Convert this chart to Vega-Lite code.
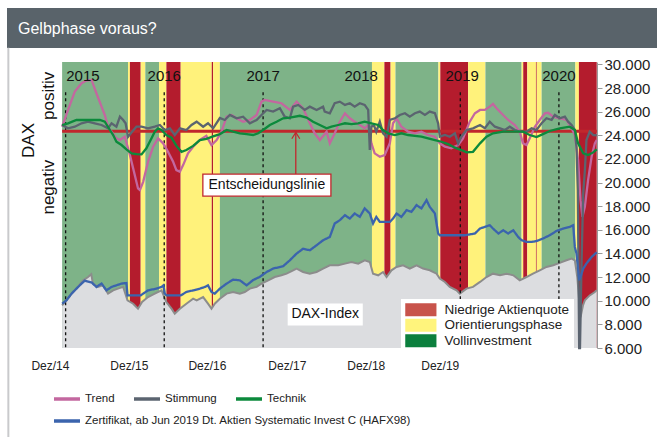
{
"$schema": "https://vega.github.io/schema/vega-lite/v6.json",
"padding": {"left": 7, "top": 8, "right": 0, "bottom": 0},
"background": "white",
"bounds": "flush",
"spacing": 14,
"config": {"view": {"stroke": null}},
"datasets": {
"bands": [
{"d":"2014-12-19","d2":"2015-08-20","p":"Vollinvestment"},
{"d":"2015-08-20","d2":"2015-08-27","p":"Orientierungsphase"},
{"d":"2015-08-27","d2":"2015-10-06","p":"Niedrige Aktienquote"},
{"d":"2015-10-06","d2":"2015-10-23","p":"Orientierungsphase"},
{"d":"2015-10-23","d2":"2015-12-13","p":"Vollinvestment"},
{"d":"2015-12-13","d2":"2016-01-09","p":"Orientierungsphase"},
{"d":"2016-01-09","d2":"2016-03-02","p":"Niedrige Aktienquote"},
{"d":"2016-03-02","d2":"2016-06-25","p":"Orientierungsphase"},
{"d":"2016-06-25","d2":"2016-06-30","p":"Niedrige Aktienquote"},
{"d":"2016-06-30","d2":"2016-07-25","p":"Orientierungsphase"},
{"d":"2016-07-25","d2":"2018-02-08","p":"Vollinvestment"},
{"d":"2018-02-08","d2":"2018-03-26","p":"Orientierungsphase"},
{"d":"2018-03-26","d2":"2018-04-18","p":"Niedrige Aktienquote"},
{"d":"2018-04-18","d2":"2018-05-06","p":"Orientierungsphase"},
{"d":"2018-05-06","d2":"2018-10-12","p":"Vollinvestment"},
{"d":"2018-10-12","d2":"2018-10-19","p":"Orientierungsphase"},
{"d":"2018-10-19","d2":"2019-01-30","p":"Niedrige Aktienquote"},
{"d":"2019-01-30","d2":"2019-04-04","p":"Orientierungsphase"},
{"d":"2019-04-04","d2":"2019-08-16","p":"Vollinvestment"},
{"d":"2019-08-16","d2":"2019-08-22","p":"Orientierungsphase"},
{"d":"2019-08-22","d2":"2019-09-06","p":"Niedrige Aktienquote"},
{"d":"2019-09-06","d2":"2019-10-08","p":"Orientierungsphase"},
{"d":"2019-10-08","d2":"2019-10-11","p":"Niedrige Aktienquote"},
{"d":"2019-10-11","d2":"2019-10-29","p":"Orientierungsphase"},
{"d":"2019-10-29","d2":"2020-03-02","p":"Vollinvestment"},
{"d":"2020-03-02","d2":"2020-03-15","p":"Orientierungsphase"},
{"d":"2020-03-15","d2":"2020-05-20","p":"Niedrige Aktienquote"}
],
"dax": [
{"d":"2014-12-19","v":9606},{"d":"2015-01-04","v":10030},{"d":"2015-01-23","v":10600},{"d":"2015-02-10","v":11022},{"d":"2015-03-07","v":11726},{"d":"2015-03-25","v":12006},{"d":"2015-04-06","v":12250},{"d":"2015-04-12","v":11450},{"d":"2015-05-01","v":11168},{"d":"2015-05-19","v":11302},{"d":"2015-06-07","v":10600},{"d":"2015-06-26","v":10878},{"d":"2015-07-14","v":11022},{"d":"2015-08-02","v":11168},{"d":"2015-08-18","v":10030},{"d":"2015-09-08","v":9750},{"d":"2015-09-26","v":9326},{"d":"2015-10-11","v":9890},{"d":"2015-11-02","v":10310},{"d":"2015-11-27","v":10600},{"d":"2015-12-22","v":10878},{"d":"2016-01-09","v":9890},{"d":"2016-01-28","v":9326},{"d":"2016-02-09","v":8902},{"d":"2016-02-28","v":9326},{"d":"2016-03-23","v":9750},{"d":"2016-04-17","v":10170},{"d":"2016-04-30","v":10030},{"d":"2016-05-24","v":10310},{"d":"2016-06-11","v":9750},{"d":"2016-06-24","v":9326},{"d":"2016-07-06","v":9750},{"d":"2016-07-25","v":10170},{"d":"2016-08-19","v":10600},{"d":"2016-09-12","v":10740},{"d":"2016-10-07","v":10600},{"d":"2016-10-25","v":10740},{"d":"2016-11-13","v":11022},{"d":"2016-12-08","v":11168},{"d":"2016-12-26","v":11450},{"d":"2017-01-20","v":11726},{"d":"2017-02-13","v":12006},{"d":"2017-03-10","v":12150},{"d":"2017-03-29","v":12290},{"d":"2017-04-22","v":12574},{"d":"2017-05-05","v":12720},{"d":"2017-05-29","v":12430},{"d":"2017-06-23","v":12290},{"d":"2017-07-18","v":12430},{"d":"2017-08-11","v":12720},{"d":"2017-09-05","v":13000},{"d":"2017-10-06","v":13000},{"d":"2017-10-31","v":13140},{"d":"2017-11-24","v":13280},{"d":"2017-12-19","v":13140},{"d":"2018-01-12","v":13422},{"d":"2018-01-31","v":13280},{"d":"2018-02-12","v":12290},{"d":"2018-03-03","v":12150},{"d":"2018-03-21","v":12430},{"d":"2018-04-03","v":12006},{"d":"2018-04-21","v":12574},{"d":"2018-05-10","v":12860},{"d":"2018-06-03","v":13000},{"d":"2018-06-28","v":12720},{"d":"2018-07-23","v":13000},{"d":"2018-08-16","v":12720},{"d":"2018-09-10","v":12574},{"d":"2018-10-05","v":12290},{"d":"2018-10-17","v":11870},{"d":"2018-11-05","v":11590},{"d":"2018-11-23","v":11168},{"d":"2018-12-18","v":10878},{"d":"2018-12-30","v":10600},{"d":"2019-01-24","v":11022},{"d":"2019-02-17","v":11168},{"d":"2019-03-15","v":11590},{"d":"2019-04-08","v":12006},{"d":"2019-05-02","v":12290},{"d":"2019-05-28","v":12150},{"d":"2019-06-21","v":12290},{"d":"2019-07-16","v":12150},{"d":"2019-08-09","v":11726},{"d":"2019-09-03","v":12006},{"d":"2019-09-27","v":12290},{"d":"2019-10-22","v":12574},{"d":"2019-11-16","v":12860},{"d":"2019-12-11","v":13000},{"d":"2020-01-04","v":13200},{"d":"2020-01-29","v":13422},{"d":"2020-02-17","v":13566},{"d":"2020-02-29","v":13422},{"d":"2020-03-09","v":12006},{"d":"2020-03-16","v":10030},{"d":"2020-03-21","v":8600},{"d":"2020-03-30","v":9600},{"d":"2020-04-06","v":10030},{"d":"2020-04-24","v":10450},{"d":"2020-05-13","v":10740},{"d":"2020-05-20","v":10900}
],
"trend": [
{"d":"2014-12-19","v":24725},{"d":"2015-01-10","v":26142},{"d":"2015-02-04","v":27694},{"d":"2015-03-01","v":28400},{"d":"2015-03-19","v":28626},{"d":"2015-04-07","v":28686},{"d":"2015-04-16","v":28117},{"d":"2015-04-25","v":27557},{"d":"2015-05-14","v":26421},{"d":"2015-05-26","v":25718},{"d":"2015-06-07","v":24725},{"d":"2015-06-20","v":24302},{"d":"2015-07-08","v":23742},{"d":"2015-07-21","v":23598},{"d":"2015-08-08","v":23878},{"d":"2015-08-27","v":22326},{"d":"2015-09-08","v":21198},{"d":"2015-09-26","v":19502},{"d":"2015-10-03","v":19358},{"d":"2015-10-15","v":20062},{"d":"2015-11-02","v":21758},{"d":"2015-11-21","v":23030},{"d":"2015-12-09","v":23742},{"d":"2015-12-28","v":23318},{"d":"2016-01-15","v":22605},{"d":"2016-02-03","v":21758},{"d":"2016-02-15","v":21054},{"d":"2016-02-28","v":20910},{"d":"2016-03-11","v":21478},{"d":"2016-03-29","v":22470},{"d":"2016-04-17","v":23030},{"d":"2016-05-12","v":23598},{"d":"2016-06-05","v":23950},{"d":"2016-06-24","v":23174},{"d":"2016-07-13","v":23598},{"d":"2016-07-31","v":24302},{"d":"2016-08-19","v":25574},{"d":"2016-09-06","v":25718},{"d":"2016-09-25","v":25438},{"d":"2016-10-19","v":25150},{"d":"2016-11-13","v":25294},{"d":"2016-12-08","v":25718},{"d":"2016-12-26","v":26846},{"d":"2017-01-07","v":26990},{"d":"2017-02-07","v":26846},{"d":"2017-03-10","v":26710},{"d":"2017-04-10","v":26142},{"d":"2017-05-05","v":26846},{"d":"2017-05-29","v":26286},{"d":"2017-06-23","v":25014},{"d":"2017-07-11","v":24166},{"d":"2017-07-30","v":23598},{"d":"2017-08-24","v":24302},{"d":"2017-09-05","v":23318},{"d":"2017-09-23","v":24166},{"d":"2017-10-12","v":25150},{"d":"2017-10-31","v":25862},{"d":"2017-11-18","v":25438},{"d":"2017-12-06","v":25150},{"d":"2017-12-25","v":24870},{"d":"2018-01-12","v":24590},{"d":"2018-01-25","v":24870},{"d":"2018-02-06","v":23318},{"d":"2018-02-18","v":22470},{"d":"2018-03-09","v":22182},{"d":"2018-03-27","v":22326},{"d":"2018-04-15","v":23318},{"d":"2018-04-27","v":25014},{"d":"2018-05-10","v":25438},{"d":"2018-05-28","v":24725},{"d":"2018-06-22","v":24302},{"d":"2018-07-17","v":24166},{"d":"2018-08-10","v":24302},{"d":"2018-09-04","v":24022},{"d":"2018-09-29","v":23878},{"d":"2018-10-17","v":23318},{"d":"2018-11-05","v":23030},{"d":"2018-11-29","v":22894},{"d":"2018-12-24","v":23174},{"d":"2019-01-11","v":23742},{"d":"2019-02-05","v":25150},{"d":"2019-02-24","v":25862},{"d":"2019-03-15","v":26142},{"d":"2019-04-02","v":26142},{"d":"2019-04-20","v":26421},{"d":"2019-05-02","v":26650},{"d":"2019-05-15","v":26286},{"d":"2019-06-02","v":25862},{"d":"2019-06-27","v":25294},{"d":"2019-07-22","v":24870},{"d":"2019-08-09","v":24302},{"d":"2019-08-21","v":23318},{"d":"2019-09-03","v":23174},{"d":"2019-09-15","v":23742},{"d":"2019-10-04","v":24725},{"d":"2019-10-22","v":25294},{"d":"2019-11-10","v":25862},{"d":"2019-11-22","v":25900},{"d":"2019-12-11","v":25574},{"d":"2020-01-04","v":25430},{"d":"2020-01-29","v":25294},{"d":"2020-02-17","v":24590},{"d":"2020-02-29","v":24022},{"d":"2020-03-12","v":21902},{"d":"2020-03-21","v":18510},{"d":"2020-03-28","v":17094},{"d":"2020-04-06","v":17942},{"d":"2020-04-18","v":20206},{"d":"2020-05-01","v":22182},{"d":"2020-05-13","v":23318},{"d":"2020-05-20","v":23600}
],
"stimmung": [
{"d":"2014-12-19","v":24870},{"d":"2015-01-10","v":24590},{"d":"2015-02-04","v":24725},{"d":"2015-03-01","v":25014},{"d":"2015-03-25","v":25150},{"d":"2015-04-19","v":25014},{"d":"2015-05-14","v":24870},{"d":"2015-06-07","v":24590},{"d":"2015-06-20","v":25014},{"d":"2015-07-08","v":24725},{"d":"2015-07-21","v":25574},{"d":"2015-08-02","v":25294},{"d":"2015-08-11","v":25014},{"d":"2015-08-20","v":23878},{"d":"2015-09-04","v":24302},{"d":"2015-09-20","v":24725},{"d":"2015-10-09","v":24725},{"d":"2015-11-02","v":24590},{"d":"2015-11-27","v":24725},{"d":"2015-12-16","v":24870},{"d":"2016-01-03","v":24446},{"d":"2016-01-22","v":24590},{"d":"2016-02-09","v":24022},{"d":"2016-02-28","v":24590},{"d":"2016-03-23","v":24446},{"d":"2016-04-11","v":24870},{"d":"2016-04-30","v":25150},{"d":"2016-05-24","v":24725},{"d":"2016-06-11","v":25014},{"d":"2016-06-30","v":24590},{"d":"2016-07-25","v":25460},{"d":"2016-08-12","v":25294},{"d":"2016-08-31","v":25718},{"d":"2016-09-25","v":25438},{"d":"2016-10-19","v":25574},{"d":"2016-11-13","v":25014},{"d":"2016-12-08","v":25294},{"d":"2016-12-26","v":25718},{"d":"2017-01-14","v":26142},{"d":"2017-02-07","v":26000},{"d":"2017-03-04","v":26286},{"d":"2017-03-22","v":25574},{"d":"2017-04-10","v":25438},{"d":"2017-04-22","v":26421},{"d":"2017-05-11","v":26566},{"d":"2017-06-04","v":26142},{"d":"2017-06-23","v":26421},{"d":"2017-07-18","v":26142},{"d":"2017-08-11","v":26421},{"d":"2017-08-17","v":26000},{"d":"2017-09-05","v":25862},{"d":"2017-09-23","v":26710},{"d":"2017-10-12","v":26846},{"d":"2017-10-31","v":26566},{"d":"2017-11-18","v":26710},{"d":"2017-12-06","v":26421},{"d":"2017-12-25","v":26710},{"d":"2018-01-12","v":26566},{"d":"2018-01-25","v":26142},{"d":"2018-01-31","v":22750},{"d":"2018-02-06","v":24725},{"d":"2018-02-15","v":24870},{"d":"2018-02-24","v":24302},{"d":"2018-03-09","v":25150},{"d":"2018-03-21","v":24166},{"d":"2018-04-03","v":23878},{"d":"2018-04-15","v":25294},{"d":"2018-05-04","v":25438},{"d":"2018-05-22","v":25718},{"d":"2018-06-10","v":25862},{"d":"2018-06-28","v":25574},{"d":"2018-07-17","v":25862},{"d":"2018-08-04","v":26000},{"d":"2018-08-23","v":25718},{"d":"2018-09-10","v":26000},{"d":"2018-09-29","v":25862},{"d":"2018-10-11","v":25014},{"d":"2018-10-17","v":23878},{"d":"2018-11-05","v":24022},{"d":"2018-11-23","v":23878},{"d":"2018-12-12","v":24166},{"d":"2018-12-24","v":23318},{"d":"2019-01-05","v":23878},{"d":"2019-01-24","v":24446},{"d":"2019-02-17","v":24590},{"d":"2019-03-15","v":24870},{"d":"2019-04-02","v":24590},{"d":"2019-04-20","v":25150},{"d":"2019-05-09","v":24725},{"d":"2019-05-28","v":24590},{"d":"2019-06-15","v":24446},{"d":"2019-07-03","v":24725},{"d":"2019-07-22","v":24446},{"d":"2019-08-09","v":24302},{"d":"2019-09-03","v":24302},{"d":"2019-09-22","v":24590},{"d":"2019-10-10","v":24446},{"d":"2019-10-29","v":25014},{"d":"2019-11-16","v":25438},{"d":"2019-12-05","v":25294},{"d":"2019-12-17","v":25718},{"d":"2020-01-04","v":25438},{"d":"2020-01-23","v":25574},{"d":"2020-02-04","v":25150},{"d":"2020-02-17","v":24870},{"d":"2020-02-29","v":24446},{"d":"2020-03-06","v":23030},{"d":"2020-03-11","v":19358},{"d":"2020-03-16","v":6000},{"d":"2020-03-19","v":6000},{"d":"2020-03-25","v":13422},{"d":"2020-03-31","v":19076},{"d":"2020-04-06","v":21000},{"d":"2020-04-12","v":23598},{"d":"2020-04-24","v":24302},{"d":"2020-05-07","v":24022},{"d":"2020-05-20","v":24000}
],
"technik": [
{"d":"2014-12-19","v":24870},{"d":"2015-01-10","v":25014},{"d":"2015-02-10","v":25294},{"d":"2015-03-25","v":25294},{"d":"2015-05-08","v":25294},{"d":"2015-05-26","v":25150},{"d":"2015-06-14","v":24446},{"d":"2015-06-26","v":24022},{"d":"2015-07-08","v":23453},{"d":"2015-07-27","v":23174},{"d":"2015-08-14","v":22810},{"d":"2015-09-02","v":22470},{"d":"2015-09-20","v":22400},{"d":"2015-10-09","v":22385},{"d":"2015-10-27","v":22894},{"d":"2015-11-15","v":23742},{"d":"2015-11-27","v":24302},{"d":"2015-12-09","v":24590},{"d":"2015-12-22","v":24446},{"d":"2016-01-09","v":24022},{"d":"2016-01-28","v":23800},{"d":"2016-02-15","v":23100},{"d":"2016-03-05","v":22600},{"d":"2016-03-23","v":22750},{"d":"2016-04-17","v":23100},{"d":"2016-05-12","v":23598},{"d":"2016-06-05","v":23700},{"d":"2016-06-30","v":23900},{"d":"2016-07-25","v":24100},{"d":"2016-08-19","v":24446},{"d":"2016-09-12","v":24302},{"d":"2016-10-07","v":24166},{"d":"2016-11-01","v":24100},{"d":"2016-11-25","v":24022},{"d":"2016-12-14","v":24166},{"d":"2017-01-01","v":24446},{"d":"2017-01-26","v":24870},{"d":"2017-02-20","v":25150},{"d":"2017-03-16","v":25438},{"d":"2017-04-10","v":25500},{"d":"2017-05-17","v":25650},{"d":"2017-06-11","v":25500},{"d":"2017-07-05","v":25150},{"d":"2017-07-30","v":24870},{"d":"2017-08-24","v":24590},{"d":"2017-09-11","v":24725},{"d":"2017-10-06","v":24870},{"d":"2017-10-31","v":25014},{"d":"2017-11-24","v":24950},{"d":"2017-12-19","v":25014},{"d":"2018-01-12","v":25150},{"d":"2018-02-06","v":25014},{"d":"2018-03-03","v":24870},{"d":"2018-03-21","v":24446},{"d":"2018-04-09","v":24166},{"d":"2018-05-04","v":24022},{"d":"2018-05-28","v":24166},{"d":"2018-06-22","v":24022},{"d":"2018-07-17","v":23950},{"d":"2018-08-10","v":23878},{"d":"2018-09-04","v":23742},{"d":"2018-09-29","v":23598},{"d":"2018-10-23","v":23453},{"d":"2018-11-17","v":23250},{"d":"2018-12-12","v":22950},{"d":"2019-01-05","v":22750},{"d":"2019-01-24","v":22550},{"d":"2019-02-17","v":22600},{"d":"2019-03-15","v":23318},{"d":"2019-04-08","v":23878},{"d":"2019-05-02","v":24166},{"d":"2019-06-09","v":24302},{"d":"2019-07-16","v":24302},{"d":"2019-08-21","v":24302},{"d":"2019-09-15","v":24022},{"d":"2019-10-10","v":23850},{"d":"2019-11-03","v":24100},{"d":"2019-11-28","v":24361},{"d":"2020-01-04","v":24590},{"d":"2020-02-10","v":24725},{"d":"2020-02-29","v":24446},{"d":"2020-03-12","v":23318},{"d":"2020-03-31","v":22470},{"d":"2020-04-18","v":22326},{"d":"2020-05-07","v":22550},{"d":"2020-05-20","v":22800}
],
"zert": [
{"d":"2014-12-19","v":9750},{"d":"2015-01-04","v":10030},{"d":"2015-01-23","v":10600},{"d":"2015-02-10","v":11022},{"d":"2015-03-01","v":11450},{"d":"2015-03-13","v":11700},{"d":"2015-04-07","v":11550},{"d":"2015-04-25","v":11168},{"d":"2015-05-14","v":11450},{"d":"2015-06-01","v":10878},{"d":"2015-06-20","v":11168},{"d":"2015-07-08","v":11302},{"d":"2015-07-27","v":11450},{"d":"2015-08-14","v":11500},{"d":"2015-08-18","v":10454},{"d":"2015-10-06","v":10454},{"d":"2015-10-15","v":10600},{"d":"2015-11-02","v":10878},{"d":"2015-12-03","v":11022},{"d":"2015-12-22","v":11168},{"d":"2015-12-29","v":11300},{"d":"2016-01-03","v":10600},{"d":"2016-01-09","v":10454},{"d":"2016-03-02","v":10454},{"d":"2016-03-23","v":10740},{"d":"2016-04-17","v":10878},{"d":"2016-05-12","v":11022},{"d":"2016-05-31","v":11168},{"d":"2016-06-11","v":11302},{"d":"2016-06-24","v":10740},{"d":"2016-07-06","v":10600},{"d":"2016-07-25","v":11022},{"d":"2016-08-19","v":11450},{"d":"2016-09-12","v":11784},{"d":"2016-10-07","v":11726},{"d":"2016-11-01","v":11302},{"d":"2016-11-25","v":11750},{"d":"2016-12-19","v":12006},{"d":"2017-01-14","v":12430},{"d":"2017-02-07","v":12720},{"d":"2017-03-16","v":12920},{"d":"2017-04-10","v":13422},{"d":"2017-05-05","v":13990},{"d":"2017-05-29","v":14400},{"d":"2017-06-23","v":14270},{"d":"2017-07-18","v":14694},{"d":"2017-08-11","v":15118},{"d":"2017-09-05","v":15398},{"d":"2017-09-23","v":16534},{"d":"2017-10-12","v":16814},{"d":"2017-10-31","v":17238},{"d":"2017-11-18","v":16950},{"d":"2017-12-06","v":17380},{"d":"2017-12-25","v":17100},{"d":"2018-01-12","v":17814},{"d":"2018-01-31","v":17380},{"d":"2018-02-12","v":16534},{"d":"2018-02-24","v":17094},{"d":"2018-03-09","v":16670},{"d":"2018-03-21","v":16670},{"d":"2018-04-15","v":16670},{"d":"2018-04-27","v":16950},{"d":"2018-05-10","v":17380},{"d":"2018-05-28","v":17094},{"d":"2018-06-16","v":17662},{"d":"2018-07-04","v":17520},{"d":"2018-07-23","v":18086},{"d":"2018-08-10","v":17814},{"d":"2018-08-29","v":18510},{"d":"2018-09-10","v":17940},{"d":"2018-09-29","v":17380},{"d":"2018-10-11","v":15686},{"d":"2018-10-17","v":15542},{"d":"2019-01-18","v":15542},{"d":"2019-02-24","v":15686},{"d":"2019-03-15","v":16110},{"d":"2019-04-02","v":16250},{"d":"2019-04-20","v":16390},{"d":"2019-05-02","v":16110},{"d":"2019-05-22","v":15686},{"d":"2019-06-09","v":15966},{"d":"2019-06-27","v":15686},{"d":"2019-07-16","v":15966},{"d":"2019-08-03","v":15400},{"d":"2019-08-16","v":15118},{"d":"2019-09-03","v":14974},{"d":"2019-09-22","v":14974},{"d":"2019-10-10","v":15050},{"d":"2019-11-03","v":15260},{"d":"2019-11-28","v":15542},{"d":"2019-12-23","v":15900},{"d":"2020-01-17","v":16110},{"d":"2020-02-10","v":16250},{"d":"2020-02-23","v":16390},{"d":"2020-02-29","v":14550},{"d":"2020-03-06","v":14000},{"d":"2020-03-16","v":11726},{"d":"2020-03-21","v":12006},{"d":"2020-03-31","v":12720},{"d":"2020-04-12","v":13150},{"d":"2020-05-01","v":13700},{"d":"2020-05-20","v":14100}
]
},
"vconcat": [
{
"width": 650, "height": 40,
"view": {"fill": "#59636a", "stroke": null},
"data": {"values": [{"t": "Gelbphase voraus?"}]},
"mark": {"type": "text", "align": "left", "baseline": "middle", "dx": 11, "dy": 1, "color": "white", "font": "Liberation Sans, sans-serif", "fontSize": 16},
"encoding": {
"text": {"field": "t", "type": "nominal"},
"x": {"datum": 0, "type": "quantitative", "scale": {"domain": [0, 1]}, "axis": null},
"y": {"datum": 0.5, "type": "quantitative", "scale": {"domain": [0, 1]}, "axis": null}
}
},
{
"width": 590, "height": 286,
"encoding": {
"x": {"field": "d", "type": "temporal",
"scale": {"domain": [{"year": 2014, "month": 5, "date": 29}, {"year": 2020, "month": 5, "date": 21}], "nice": false},
"axis": {"values": [{"year": 2014, "month": 11, "date": 4}, {"year": 2015, "month": 8, "date": 23}, {"year": 2016, "month": 6, "date": 7}, {"year": 2017, "month": 3, "date": 30}, {"year": 2018, "month": 1, "date": 16}, {"year": 2018, "month": 10, "date": 17}],
"labelExpr": "'Dez/' + (14 + round(datum.index * 5))", "ticks": false, "domain": false, "grid": false, "title": null, "labelOverlap": false, "labelFlush": false,
"labelFont": "Liberation Sans, sans-serif", "labelFontSize": 12, "labelColor": "#222", "labelPadding": 12}}
},
"layer": [
{"data": {"name": "bands"}, "mark": {"type": "rect"},
"encoding": {
"x2": {"field": "d2"},
"y": {"datum": 30200, "type": "quantitative",
"scale": {"domain": [6000, 30200], "nice": false, "zero": false},
"axis": {"orient": "right", "values": [6000, 8000, 10000, 12000, 14000, 16000, 18000, 20000, 22000, 24000, 26000, 28000, 30000], "tickCount": 13,
"labelExpr": "replace(format(datum.value, ',d'), ',', '.')", "grid": false, "title": null, "labelOverlap": false,
"domainColor": "#9a9a9a", "tickColor": "#9a9a9a", "tickSize": 5, "labelPadding": 2,
"labelFont": "Liberation Sans, sans-serif", "labelFontSize": 15, "labelColor": "#222"}},
"y2": {"datum": 6000},
"fill": {"field": "p", "type": "nominal",
"scale": {"domain": ["Vollinvestment", "Orientierungsphase", "Niedrige Aktienquote"], "range": ["#7eb388", "#fff27b", "#b41c2d"]},
"legend": null}
}},
{"data": {"name": "bands"}, "mark": {"type": "rect", "opacity": 0},
"encoding": {
"x2": {"field": "d2"},
"y": {"datum": 30200, "type": "quantitative"},
"y2": {"datum": 6000},
"color": {"field": "p", "type": "nominal",
"scale": {"domain": ["Niedrige Aktienquote", "Orientierungsphase", "Vollinvestment"], "range": ["#c8534b", "#fff47c", "#0b7f3d"]},
"legend": {"orient": "none", "legendX": 394, "legendY": 291, "title": null, "fillColor": "white", "padding": 4,
"symbolType": "M-1,-1H3.8V1H-1Z", "symbolSize": 169, "symbolStrokeWidth": 0, "symbolOpacity": 1,
"labelFont": "Liberation Sans, sans-serif", "labelFontSize": 13.5, "labelColor": "#222", "labelOffset": 26, "rowPadding": 0.5, "labelLimit": 300}}
}},
{"data": {"name": "dax"}, "mark": {"type": "area", "color": "#dcdde0", "opacity": 1, "line": {"color": "#8c8c8c", "strokeWidth": 2}},
"encoding": {"y": {"field": "v", "type": "quantitative"}, "y2": {"datum": 6000}}},
{"data": {"values": [{"d": "2015-01-01"}, {"d": "2016-01-01"}, {"d": "2017-01-01"}, {"d": "2019-01-01"}, {"d": "2020-01-01"}]},
"mark": {"type": "rule", "color": "#111", "strokeWidth": 1.3, "strokeDash": [3, 3]},
"encoding": {"y": {"datum": 27650, "type": "quantitative"}, "y2": {"datum": 6000}}},
{"data": {"values": [{"d": "2014-12-19", "d2": "2020-05-20", "v": 24350}]},
"mark": {"type": "rule", "color": "#c1272d", "strokeWidth": 3},
"encoding": {"x2": {"field": "d2"}, "y": {"field": "v", "type": "quantitative"}}},
{"data": {"values": [{"d": "2017-05-02", "v": 24250, "v2": 20714}]},
"mark": {"type": "rule", "color": "#c1272d", "strokeWidth": 1.3},
"encoding": {"y": {"field": "v", "type": "quantitative"}, "y2": {"field": "v2"}}},
{"data": {"values": [{"d": "2017-05-02", "v": 24250}]},
"mark": {"type": "point", "shape": "M-1,1.6L0,0L1,1.6", "filled": false, "color": "#c1272d", "size": 64, "strokeWidth": 1.2, "opacity": 1},
"encoding": {"y": {"field": "v", "type": "quantitative"}}},
{"data": {"name": "trend"}, "mark": {"type": "line", "strokeWidth": 2.3},
"encoding": {"y": {"field": "v", "type": "quantitative"}, "stroke": {"datum": "Trend", "type": "nominal",
"scale": {"domain": ["Trend", "Stimmung", "Technik"], "range": ["#c3679f", "#5b6470", "#0c8a3c"]},
"legend": {"orient": "none", "legendX": 45, "legendY": 376, "title": null, "direction": "horizontal",
"symbolType": "stroke", "symbolSize": 676, "symbolStrokeWidth": 3.5, "labelFont": "Liberation Sans, sans-serif", "labelFontSize": 11.5, "labelColor": "#222",
"labelOffset": 3, "columnPadding": 12, "labelLimit": 400}}}},
{"data": {"name": "stimmung"}, "mark": {"type": "line", "strokeWidth": 2.3},
"encoding": {"y": {"field": "v", "type": "quantitative"}, "stroke": {"datum": "Stimmung", "type": "nominal"}}},
{"data": {"name": "technik"}, "mark": {"type": "line", "strokeWidth": 2.3},
"encoding": {"y": {"field": "v", "type": "quantitative"}, "stroke": {"datum": "Technik", "type": "nominal"}}},
{"data": {"name": "zert"}, "mark": {"type": "line", "strokeWidth": 2.3, "color": "#3b64ad"},
"encoding": {"y": {"field": "v", "type": "quantitative"}, "strokeDash": {"datum": "Zertifikat, ab Jun 2019 Dt. Aktien Systematic Invest C (HAFX98)", "type": "nominal",
"scale": {"range": [[1, 0]]},
"legend": {"orient": "none", "legendX": 45, "legendY": 398, "title": null,
"symbolType": "stroke", "symbolSize": 676, "symbolStrokeWidth": 3.5, "symbolStrokeColor": "#3b64ad", "labelFont": "Liberation Sans, sans-serif", "labelFontSize": 11.5, "labelColor": "#222",
"labelOffset": 3, "labelLimit": 500}}}},
{"data": {"values": [{"d": "2016-05-23", "d2": "2017-09-09", "v": 20714, "v2": 18849}]},
"mark": {"type": "rect", "fill": "white", "stroke": "#c1272d", "strokeWidth": 1.3},
"encoding": {"x2": {"field": "d2"}, "y": {"field": "v", "type": "quantitative"}, "y2": {"field": "v2"}}},
{"data": {"values": [{"d": "2017-04-02", "d2": "2018-01-05", "v": 9775, "v2": 7910}]},
"mark": {"type": "rect", "fill": "white"},
"encoding": {"x2": {"field": "d2"}, "y": {"field": "v", "type": "quantitative"}, "y2": {"field": "v2"}}},
{"data": {"values": [{"d": "2017-01-15", "v": 19782, "t": "Entscheidungslinie"}, {"d": "2017-08-19", "v": 8843, "t": "DAX-Index"}]},
"mark": {"type": "text", "font": "Liberation Sans, sans-serif", "fontSize": 14, "color": "#111", "baseline": "middle", "align": "center"},
"encoding": {"y": {"field": "v", "type": "quantitative"}, "text": {"field": "t", "type": "nominal"}}},
{"data": {"values": [{"d": "2015-03-06", "v": 29000, "t": "2015"}, {"d": "2016-01-01", "v": 29000, "t": "2016"}, {"d": "2017-01-01", "v": 29000, "t": "2017"}, {"d": "2017-12-30", "v": 29000, "t": "2018"}, {"d": "2019-01-08", "v": 29000, "t": "2019"}, {"d": "2020-01-01", "v": 29000, "t": "2020"}]},
"mark": {"type": "text", "font": "Liberation Sans, sans-serif", "fontSize": 15, "color": "#111", "baseline": "middle", "align": "center"},
"encoding": {"y": {"field": "v", "type": "quantitative"}, "text": {"field": "t", "type": "nominal"}}},
{"data": {"values": [{"d": "2014-08-18", "v": 23560, "t": "DAX", "s": 17}, {"d": "2014-10-31", "v": 27330, "t": "positiv", "s": 17}, {"d": "2014-10-31", "v": 19610, "t": "negativ", "s": 17}]},
"mark": {"type": "text", "font": "Liberation Sans, sans-serif", "color": "#111", "angle": 270, "baseline": "middle", "align": "center"},
"encoding": {"y": {"field": "v", "type": "quantitative"}, "text": {"field": "t", "type": "nominal"}, "size": {"field": "s", "type": "quantitative", "scale": null, "legend": null}}},
{"data": {"values": [{"d": "2014-06-03"}]},
"mark": {"type": "rule", "color": "#c9cacc", "strokeWidth": 2},
"encoding": {"y": {"datum": 31400, "type": "quantitative"}, "y2": {"datum": -1600}}}
]
}
]
}
